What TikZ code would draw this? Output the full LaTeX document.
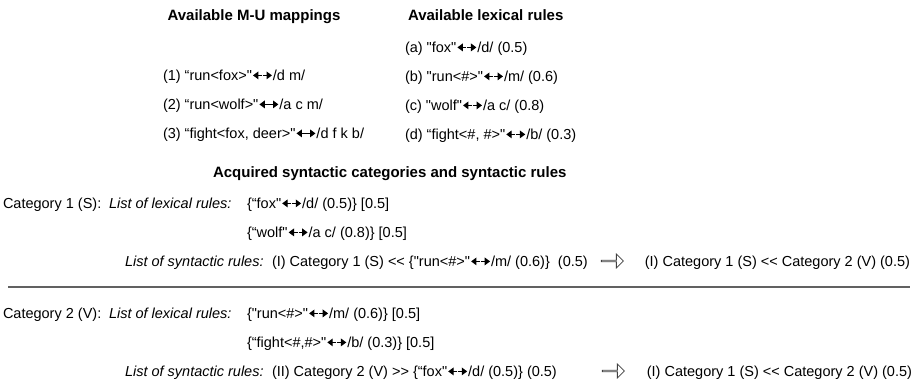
\documentclass[tikz,border=0pt]{standalone}
\usepackage{fontspec}
\setmainfont{Liberation Sans}[Ligatures=TeXOff]
\usetikzlibrary{shapes.arrows,arrows.meta}
% #1 name, #2 position, #3 text before arrows, #4 text after arrows
\newcommand\lrpair[4]{%
  \node[txt] (#1a) at #2 {#3};
  \node[txt] (#1b) at ([xshift=21pt]#1a.base east) {#4};
  \coordinate (#1m) at ([xshift=10.5pt,yshift=4.6pt]#1a.base east);
  \draw[lrline] ([xshift=-0.4pt]#1m) -- ([xshift=1pt,yshift=4.6pt]#1a.base east);
  \draw[lrline] ([xshift=0.4pt]#1m) -- ([xshift=-1pt,yshift=4.6pt]#1b.base west);
}
\begin{document}
\begin{tikzpicture}[x=1pt,y=-1pt,
  txt/.style={inner sep=0pt,outer sep=0pt,anchor=base west,font=\fontsize{14.5}{17}\selectfont},
  ttl/.style={txt,font=\fontsize{15}{18}\selectfont\bfseries},
  itx/.style={txt,font=\fontsize{14.5}{17}\selectfont\itshape},
  lrline/.style={-{Triangle[length=5.4pt,width=7.6pt]},line width=1.1pt,black},
  hollow/.style={single arrow,draw=black!75,line width=0.8pt,fill=white,minimum width=14pt,
    single arrow head extend=3.5pt,minimum height=22pt,inner sep=0pt}]
\useasboundingbox (0,0) rectangle (919,388);
% top titles
\node[ttl,anchor=base] (t1) at (254,20) {Available M-U mappings};
\node[ttl] (t2) at (408,20) {Available lexical rules};
% M-U mappings
\lrpair{m1}{(163,80)}{(1) “run<fox>"}{/d m/}
\lrpair{m2}{(163,109)}{(2) “run<wolf>"}{/a c m/}
\lrpair{m3}{(163,138)}{(3) “fight<fox, deer>"}{/d f k b/}
% lexical rules
\lrpair{la}{(405,52)}{(a) "fox"}{/d/ (0.5)}
\lrpair{lb}{(405,81)}{(b) "run<\#>"}{/m/ (0.6)}
\lrpair{lc}{(405,110)}{(c) "wolf"}{/a c/ (0.8)}
\lrpair{ld}{(405,139)}{(d) “fight<\#, \#>"}{/b/ (0.3)}
% acquired
\node[ttl] (t3) at (213,177) {Acquired syntactic categories and syntactic rules};
% category 1
\node[txt] (c1) at (3,208) {Category 1 (S):};
\node[itx] (c1l) at (109,208) {List of lexical rules:};
\lrpair{c1r1}{(247,208)}{\{“fox"}{/d/ (0.5)\} [0.5]}
\lrpair{c1r2}{(247,237)}{\{“wolf"}{/a c/ (0.8)\} [0.5]}
\node[itx] (c1s) at (125,266) {List of syntactic rules:};
\lrpair{c1sr}{(272,266)}{(I) Category 1 (S) << \{"run<\#>"}{/m/ (0.6)\} \hspace{4pt}(0.5)}
\node[hollow] (a1) at (612,261) {};
\node[txt,anchor=base east] (c1res) at (910,266) {(I) Category 1 (S) << Category 2 (V) (0.5)};
% separator
\coordinate (sepL) at (8,287);
\coordinate (sepR) at (910,287);
\draw[line width=1.8pt,black!62] (sepL) -- (sepR);
% category 2
\node[txt] (c2) at (3,318) {Category 2 (V):};
\node[itx] (c2l) at (109,318) {List of lexical rules:};
\lrpair{c2r1}{(247,318)}{\{"run<\#>"}{/m/ (0.6)\} [0.5]}
\lrpair{c2r2}{(247,347)}{\{“fight<\#,\#>"}{/b/ (0.3)\} [0.5]}
\node[itx] (c2s) at (125,376) {List of syntactic rules:};
\lrpair{c2sr}{(272,376)}{(II) Category 2 (V) >> \{“fox"}{/d/ (0.5)\} (0.5)}
\node[hollow] (a2) at (613,371) {};
\node[txt,anchor=base east] (c2res) at (912,376) {(I) Category 1 (S) << Category 2 (V) (0.5)};
\end{tikzpicture}
\end{document}
